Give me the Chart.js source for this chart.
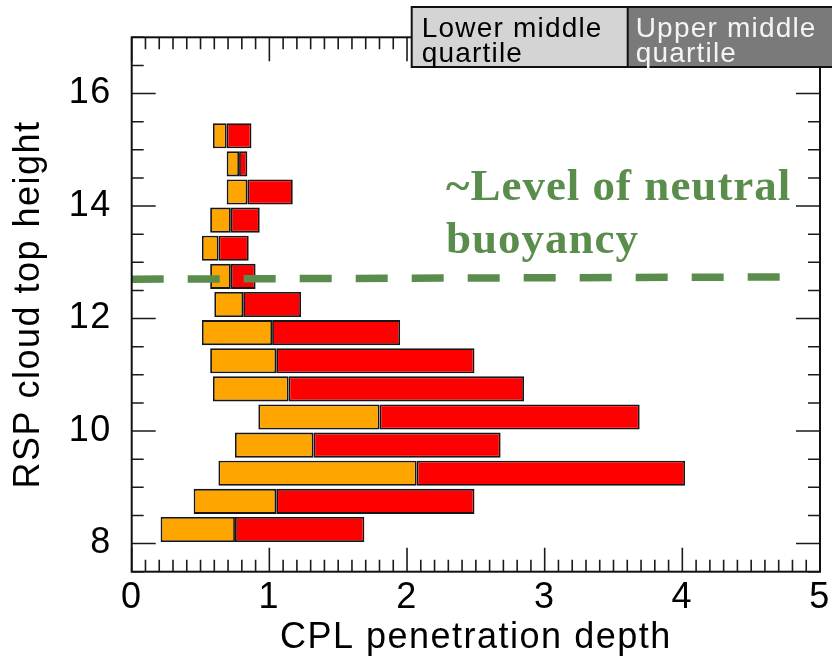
<!DOCTYPE html>
<html>
<head>
<meta charset="utf-8">
<script src="https://cdn.jsdelivr.net/npm/chart.js@4.4.1/dist/chart.umd.min.js"></script>
<style>
  html, body { margin: 0; padding: 0; background: #fff; }
  canvas { display: block; }
</style>
</head>
<body>
<canvas id="chart" width="832" height="660"></canvas>
<script>
// Cloud-top height bins (centre of each 0.5 bin)
const cloudTopHeight = [8.25, 8.75, 9.25, 9.75, 10.25, 10.75, 11.25, 11.75, 12.25, 12.75, 13.25, 13.75, 14.25, 14.75, 15.25];
// Penetration depth: 25th percentile, median, 75th percentile
const lowerQuartile = [0.21, 0.45, 0.63, 0.75, 0.92, 0.59, 0.57, 0.51, 0.60, 0.57, 0.51, 0.57, 0.69, 0.69, 0.59];
const medianDepth   = [0.75, 1.05, 2.07, 1.32, 1.80, 1.14, 1.05, 1.02, 0.81, 0.72, 0.63, 0.72, 0.84, 0.78, 0.69];
const upperQuartile = [1.69, 2.49, 4.02, 2.68, 3.69, 2.85, 2.49, 1.95, 1.23, 0.90, 0.85, 0.93, 1.17, 0.84, 0.87];
// Approximate level of neutral buoyancy: end points (depth, height)
const neutralBuoyancyDepth = [0, 4.75];
const neutralBuoyancyHeight = [12.70, 12.74];

const xTickValues = [0, 1, 2, 3, 4, 5];
const yTickValues = [8, 10, 12, 14, 16];
const legendLines = [['Lower middle', 'quartile'], ['Upper middle', 'quartile']];
const noteLines = ['~Level of neutral', 'buoyancy'];

const SANS = '"Liberation Sans", Arial, Helvetica, sans-serif';
const SERIF = '"Liberation Serif", "Times New Roman", serif';
const GREEN = '#5a8d4b';

// Inward tick marks on all four sides plus the box frame
const frameAndTicks = {
  id: 'frameAndTicks',
  afterDraw(chart) {
    const ctx = chart.ctx;
    const a = chart.chartArea;
    const xs = chart.scales.x, ys = chart.scales.y;
    ctx.save();
    ctx.letterSpacing = '0px';
    ctx.strokeStyle = '#1a1a1a';
    ctx.lineWidth = 1.6;
    ctx.beginPath();
    for (let i = 0; i <= 50; i++) {
      const px = xs.getPixelForValue(i / 10);
      const len = i % 10 === 0 ? 24 : 12;
      ctx.moveTo(px, a.bottom); ctx.lineTo(px, a.bottom - len);
      ctx.moveTo(px, a.top); ctx.lineTo(px, a.top + len);
    }
    for (let i = 0; i <= 19; i++) {
      const v = 7.5 + i * 0.5;
      const py = ys.getPixelForValue(v);
      const len = v % 2 === 0 ? 24 : 12;
      ctx.moveTo(a.left, py); ctx.lineTo(a.left + len, py);
      ctx.moveTo(a.right, py); ctx.lineTo(a.right - len, py);
    }
    ctx.stroke();
    ctx.lineWidth = 2;
    ctx.strokeStyle = '#111';
    ctx.strokeRect(a.left, a.top, a.right - a.left, a.bottom - a.top);
    ctx.restore();
  }
};

// Quartile key boxes in the upper right corner
const quartileKey = {
  id: 'quartileKey',
  afterDraw(chart) {
    const ctx = chart.ctx;
    const top = 7, h = 60, x0 = 411.7, x1 = 627.7, x2 = 840;
    ctx.save();
    ctx.fillStyle = '#d4d4d4';
    ctx.fillRect(x0, top, x1 - x0, h);
    ctx.fillStyle = '#7a7a7a';
    ctx.fillRect(x1, top, x2 - x1, h);
    ctx.strokeStyle = '#111';
    ctx.lineWidth = 2;
    ctx.strokeRect(x0, top, x2 - x0, h);
    ctx.beginPath(); ctx.moveTo(x1, top); ctx.lineTo(x1, top + h); ctx.stroke();
    ctx.font = '28px ' + SANS;
    ctx.letterSpacing = '1.2px';
    ctx.textBaseline = 'alphabetic';
    ctx.textAlign = 'left';
    ctx.fillStyle = '#000';
    ctx.fillText(legendLines[0][0], x0 + 10, 36.5);
    ctx.fillText(legendLines[0][1], x0 + 10, 62);
    ctx.fillStyle = '#f4f4f4';
    ctx.fillText(legendLines[1][0], x1 + 8, 36.5);
    ctx.fillText(legendLines[1][1], x1 + 8, 62);
    ctx.restore();
  }
};

// Green note beside the neutral-buoyancy line
const buoyancyNote = {
  id: 'buoyancyNote',
  afterDraw(chart) {
    const ctx = chart.ctx;
    ctx.save();
    ctx.font = 'bold 45px ' + SERIF;
    ctx.letterSpacing = '1px';
    ctx.fillStyle = GREEN;
    ctx.textAlign = 'left';
    ctx.textBaseline = 'alphabetic';
    ctx.fillText(noteLines[0], 446, 200);
    ctx.fillText(noteLines[1], 446, 253);
    ctx.restore();
  }
};

const textSpacing = {
  id: 'textSpacing',
  beforeDraw(chart) { chart.ctx.letterSpacing = '1.5px'; }
};

new Chart(document.getElementById('chart'), {
  type: 'bar',
  data: {
    datasets: [
      {
        type: 'line',
        label: 'Level of neutral buoyancy',
        data: neutralBuoyancyDepth.map((d, i) => ({ x: d, y: neutralBuoyancyHeight[i] })),
        borderColor: GREEN,
        borderWidth: 7.5,
        borderDash: [32, 24],
        borderCapStyle: 'butt',
        pointRadius: 0,
        fill: false,
        tension: 0,
        order: 0
      },
      {
        label: 'Lower middle quartile',
        data: cloudTopHeight.map((h, i) => ({ y: h, x: [lowerQuartile[i], medianDepth[i]] })),
        backgroundColor: '#ffa500',
        order: 2
      },
      {
        label: 'Upper middle quartile',
        data: cloudTopHeight.map((h, i) => ({ y: h, x: [medianDepth[i], upperQuartile[i]] })),
        backgroundColor: '#ff0000',
        order: 1
      }
    ]
  },
  options: {
    indexAxis: 'y',
    responsive: false,
    animation: false,
    layout: { padding: { top: 37.3, right: 12, left: 0, bottom: 0 } },
    plugins: { legend: { display: false }, tooltip: { enabled: false } },
    datasets: {
      bar: {
        grouped: false,
        barPercentage: 0.89,
        categoryPercentage: 1,
        borderSkipped: false,
        borderWidth: 1.8,
        borderColor: '#161616'
      }
    },
    scales: {
      x: {
        type: 'linear',
        position: 'bottom',
        min: 0, max: 5,
        offset: false,
        grid: { display: false, drawTicks: false, offset: false },
        border: { display: false },
        afterBuildTicks: s => { s.ticks = xTickValues.map(v => ({ value: v })); },
        afterFit: s => { s.height = 88.3; s.paddingLeft = 0; s.paddingRight = 0; },
        ticks: {
          autoSkip: false, maxRotation: 0, padding: 5, color: '#000',
          font: { family: SANS, size: 36 },
          callback: v => String(v)
        },
        title: {
          display: true, text: 'CPL penetration depth', color: '#000',
          font: { family: SANS, size: 36 }, padding: { top: 0, bottom: 0 }
        }
      },
      y: {
        type: 'linear',
        position: 'left',
        min: 7.5, max: 17,
        offset: false,
        grid: { display: false, drawTicks: false, offset: false },
        border: { display: false },
        afterBuildTicks: s => { s.ticks = yTickValues.map(v => ({ value: v })); },
        afterFit: s => { s.width = 131.7; s.paddingTop = 0; s.paddingBottom = 0; },
        ticks: {
          autoSkip: false, padding: 20, color: '#000',
          font: { family: SANS, size: 36 },
          callback: v => String(v)
        },
        title: {
          display: true, text: 'RSP cloud top height', color: '#000',
          font: { family: SANS, size: 36 }, padding: { top: 7, bottom: 0 }
        }
      }
    }
  },
  plugins: [textSpacing, frameAndTicks, quartileKey, buoyancyNote]
});
</script>
</body>
</html>
